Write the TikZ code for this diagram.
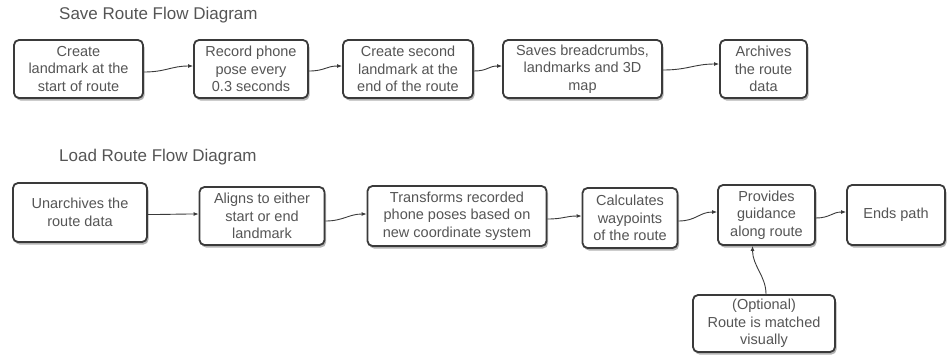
\documentclass[tikz,border=0pt]{standalone}
\usepackage{fontspec}
\setmainfont{Liberation Sans}
\usetikzlibrary{shadows,arrows.meta}
\definecolor{txt}{HTML}{555555}
\definecolor{edge}{HTML}{3A3A3A}
\begin{document}
\begin{tikzpicture}[x=1pt,y=-1pt,
  box/.style={draw=edge, line width=1.8pt, rounded corners=5pt, fill=white,
    align=center, text=txt, font=\fontsize{14.5}{17.5}\selectfont, inner sep=2pt,
    drop shadow={shadow xshift=1.5pt, shadow yshift=-2.5pt, fill=black, opacity=0.3}},
  conn/.style={draw=edge, line width=0.9pt, -{Latex[length=5pt,width=4pt]}},
  heading/.style={text=txt, font=\fontsize{17}{20}\selectfont, anchor=west, inner sep=0pt}]
\useasboundingbox (0,0) rectangle (949,360);

\node[heading] (t1) at (59,15) {Save Route Flow Diagram};
\node[heading] (t2) at (59,157) {Load Route Flow Diagram};

% top row
\node[box, minimum width=129pt, minimum height=58pt] (b1) at (78.5,69) {Create\\landmark at the\\start of route};
\node[box, minimum width=114pt, minimum height=58pt] (b2) at (251,69) {Record phone\\pose every\\0.3 seconds};
\node[box, minimum width=130pt, minimum height=58pt] (b3) at (408,69) {Create second\\landmark at the\\end of the route};
\node[box, minimum width=159pt, minimum height=58pt] (b4) at (582.5,69) {Saves breadcrumbs,\\landmarks and 3D\\map};
\node[box, minimum width=87pt, minimum height=58pt] (b5) at (763.5,69) {Archives\\the route\\data};

% bottom row
\node[box, minimum width=134pt, minimum height=59pt] (l1) at (80,212.5) {Unarchives the\\route data};
\node[box, minimum width=125pt, minimum height=58pt] (l2) at (262,216) {Aligns to either\\start or end\\landmark};
\node[box, minimum width=179pt, minimum height=60pt] (l3) at (457,216) {Transforms recorded\\phone poses based on\\new coordinate system};
\node[box, minimum width=95pt, minimum height=60pt] (l4) at (630,218) {Calculates\\waypoints\\of the route};
\node[box, minimum width=97pt, minimum height=60pt] (l5) at (766.5,215) {Provides\\guidance\\along route};
\node[box, minimum width=98pt, minimum height=60pt] (l6) at (896,215) {Ends path};
\node[box, minimum width=142pt, minimum height=57pt] (o1) at (764,323.5) {(Optional)\\Route is matched\\visually};

% connectors top
\draw[conn] ([yshift=-3pt]b1.east) .. controls +(22,0) and +(-22,0) .. ([yshift=3pt]b2.west);
\draw[conn] ([yshift=-2pt]b2.east) .. controls +(16,0) and +(-16,0) .. ([yshift=3pt]b3.west);
\draw[conn] ([yshift=-2pt]b3.east) .. controls +(14,0) and +(-14,0) .. ([yshift=3pt]b4.west);
\draw[conn] ([yshift=-1pt]b4.east) .. controls +(25,0) and +(-25,0) .. ([yshift=5pt]b5.west);

% connectors bottom
\draw[conn] ([yshift=-2pt]l1.east) .. controls +(22,0) and +(-22,0) .. ([yshift=2pt]l2.west);
\draw[conn] ([yshift=-5pt]l2.east) .. controls +(18,0) and +(-18,0) .. ([yshift=2pt]l3.west);
\draw[conn] ([yshift=-3pt]l3.east) .. controls +(16,0) and +(-16,0) .. ([yshift=2pt]l4.west);
\draw[conn] ([yshift=-3pt]l4.east) .. controls +(18,0) and +(-18,0) .. ([yshift=3pt]l5.west);
\draw[conn] ([yshift=-3pt]l5.east) .. controls +(14,0) and +(-14,0) .. ([yshift=3pt]l6.west);
\draw[conn] ([xshift=2pt]o1.north) .. controls +(0,-18) and +(0,20) .. ([xshift=-14pt]l5.south);
\end{tikzpicture}
\end{document}
